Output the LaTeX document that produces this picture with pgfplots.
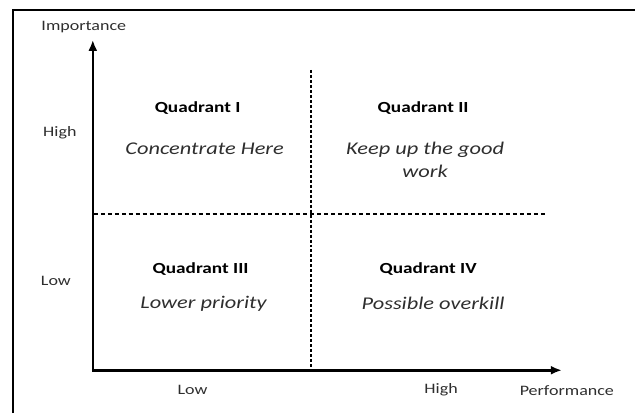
\documentclass[border=0pt]{standalone}
\usepackage{pgfplots}
\pgfplotsset{compat=1.18}
\usepackage{fontspec}
\setmainfont[FakeStretch=1.25]{Carlito}
\usetikzlibrary{arrows.meta}
\definecolor{txt}{HTML}{2E2E2E}
\begin{document}
\begin{tikzpicture}
\begin{axis}[scale only axis, width=636bp, height=414bp,
  xmin=0, xmax=636, ymin=0, ymax=414, y dir=reverse,
  hide axis, clip=false]
\path (axis cs:0,0) rectangle (axis cs:636,414);
% frame
\addplot[black, line width=2.6bp] coordinates {(13,414) (13,10) (636,10)};
% axes
\addplot[black, line width=2.6bp, -{Latex[length=11bp,width=9bp]}] coordinates {(93,372) (93,40)};
\addplot[black, line width=2.6bp, -{Latex[length=11bp,width=9bp]}] coordinates {(92,371) (563,371)};
% dividers
\addplot[black, line width=2bp, dash pattern=on 4bp off 3bp] coordinates {(94,214) (548,214)};
\addplot[black, line width=2bp, dash pattern=on 3bp off 2bp] coordinates {(312,70) (312,370)};
% axis labels
\begin{scope}[every node/.style={text=txt, font=\fontsize{14.5}{17}\selectfont, inner sep=0pt}]
\node at (axis cs:84,27) {Importance};
\node at (axis cs:60,133) {High};
\node at (axis cs:56,281) {Low};
\node at (axis cs:193,391) {Low};
\node at (axis cs:442,391) {High};
\node at (axis cs:568,391) {Performance};
\end{scope}
\begin{scope}[every node/.style={text=black, font=\fontsize{15.5}{18}\bfseries\selectfont, inner sep=0pt}]
\node at (axis cs:198,108) {Quadrant I};
\node at (axis cs:424,108) {Quadrant II};
\node at (axis cs:201,270) {Quadrant III};
\node at (axis cs:429,270) {Quadrant IV};
\end{scope}
\begin{scope}[every node/.style={text=txt, font=\fontsize{18}{23}\itshape\selectfont, inner sep=0pt}]
\node at (axis cs:205,149) {Concentrate Here};
\node[align=center] at (axis cs:426,160) {Keep up the good\\work};
\node at (axis cs:204,304) {Lower priority};
\node at (axis cs:434,304) {Possible overkill};
\end{scope}
\end{axis}
\end{tikzpicture}
\end{document}
